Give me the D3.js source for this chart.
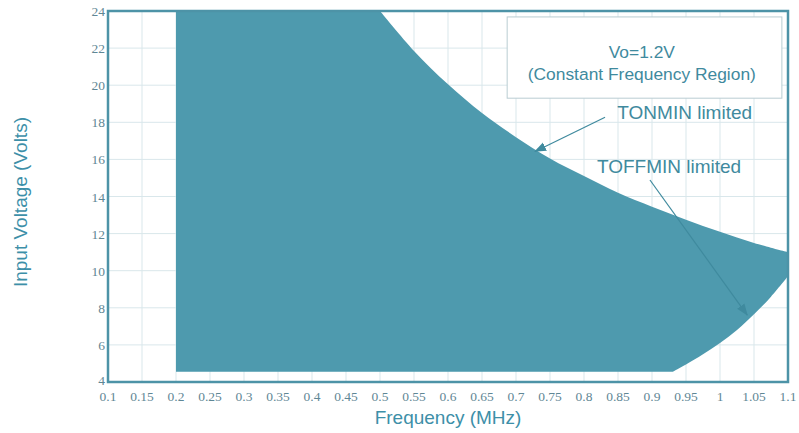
<!DOCTYPE html>
<head>
<meta charset="utf-8">
<script src="https://d3js.org/d3.v7.min.js"></script>
<style>
body { margin:0; background:#fff; }
.grid line { stroke:#d9e7eb; stroke-width:1; }
.tick-label { font-family:"Liberation Serif", "Times New Roman", serif; font-size:13.5px; fill:#5f8795; }
.title { font-family:"Liberation Sans", Arial, sans-serif; font-size:19px; fill:#3d8fa8; }
.region { fill:#4e9aae; }
.frame { fill:none; stroke:#4d93a7; stroke-width:2.5; }
.note { font-family:"Liberation Sans", Arial, sans-serif; font-size:17.4px; fill:#3f8a9e; }
.note.big { font-size:19px; }
.note-box { fill:#fff; stroke:#b9cdd2; stroke-width:1; }
.arrow { stroke:#3f8a9e; stroke-width:1.2; fill:none; }
</style>
</head>
<body>
<script>
// tick values / labels
var xTicks = [0.1, 0.15, 0.2, 0.25, 0.3, 0.35, 0.4, 0.45, 0.5, 0.55, 0.6, 0.65, 0.7, 0.75, 0.8, 0.85, 0.9, 0.95, 1, 1.05, 1.1];
var xTickLabels = ["0.1", "0.15", "0.2", "0.25", "0.3", "0.35", "0.4", "0.45", "0.5", "0.55", "0.6", "0.65", "0.7", "0.75", "0.8", "0.85", "0.9", "0.95", "1", "1.05", "1.1"];
var yTicks = [4, 6, 8, 10, 12, 14, 16, 18, 20, 22, 24];

// upper edge of the region: TONMIN limited (MHz -> Volts)
var tonFreq = [0.5, 0.55, 0.6, 0.65, 0.7, 0.75, 0.8, 0.85, 0.9, 0.95, 1.0, 1.05, 1.1];
var tonVolt = [24, 21.85, 20.05, 18.5, 17.2, 16.05, 15.1, 14.2, 13.45, 12.75, 12.1, 11.5, 11.0];

// lower right edge: TOFFMIN limited
var toffFreq = [0.93, 0.95, 0.975, 1.0, 1.025, 1.05, 1.075, 1.1];
var toffVolt = [4.55, 4.95, 5.5, 6.1, 6.8, 7.65, 8.6, 9.7];

// flat edges of the region
var fStart = 0.2, vFloor = 4.55, vCeil = 24;

var W = 799, H = 433;
var margin = {top: 11, right: 11, bottom: 51, left: 108},
    width = W - margin.left - margin.right,
    height = H - margin.top - margin.bottom;

var x = d3.scaleLinear().domain([0.1, 1.1]).range([0, width]);
var y = d3.scaleLinear().domain([4, 24]).range([height, 0]);

var svgRoot = d3.select("body").append("svg")
    .attr("width", W)
    .attr("height", H);

var defs = svgRoot.append("defs");
defs.append("marker")
    .attr("id", "head")
    .attr("viewBox", "0 -5 12 10")
    .attr("refX", 11).attr("refY", 0)
    .attr("markerWidth", 12).attr("markerHeight", 10)
    .attr("markerUnits", "userSpaceOnUse")
    .attr("orient", "auto")
  .append("path")
    .attr("d", "M0,-4.5L12,0L0,4.5Z")
    .attr("fill", "#3f8a9e");

var svg = svgRoot.append("g")
    .attr("transform", "translate(" + margin.left + "," + margin.top + ")");

// grid
var grid = svg.append("g").attr("class", "grid");
grid.selectAll(".gx").data(xTicks).enter().append("line")
    .attr("x1", d => x(d)).attr("x2", d => x(d))
    .attr("y1", 0).attr("y2", height);
grid.selectAll(".gy").data(yTicks).enter().append("line")
    .attr("x1", 0).attr("x2", width)
    .attr("y1", d => y(d)).attr("y2", d => y(d));

// operating region
var upperLine = d3.line()
    .x(d => x(d[0])).y(d => y(d[1]))
    .curve(d3.curveCatmullRom.alpha(0.5));
var lowerLine = d3.line()
    .x(d => x(d[0])).y(d => y(d[1]))
    .curve(d3.curveCatmullRom.alpha(0.5));

var upperPts = d3.zip(tonFreq, tonVolt);
var lowerPts = d3.zip(toffFreq, toffVolt).reverse();

var regionPath = "M" + x(fStart) + "," + y(vFloor)
    + "L" + x(fStart) + "," + y(vCeil)
    + upperLine(upperPts).replace(/^M/, "L")
    + lowerLine(lowerPts).replace(/^M/, "L")
    + "Z";

svg.append("path")
    .attr("class", "region")
    .attr("d", regionPath);

// frame
svg.append("rect")
    .attr("class", "frame")
    .attr("x", 0).attr("y", 0)
    .attr("width", width).attr("height", height);

// tick labels
svg.selectAll(".xl").data(xTicks).enter().append("text")
    .attr("class", "tick-label")
    .attr("x", d => x(d))
    .attr("y", height + 19)
    .attr("text-anchor", "middle")
    .text((d, i) => xTickLabels[i]);

svg.selectAll(".yl").data(yTicks).enter().append("text")
    .attr("class", "tick-label")
    .attr("x", -3)
    .attr("y", d => y(d) + (d === 4 ? 3 : 5))
    .attr("text-anchor", "end")
    .text(d => d);

// axis titles
svg.append("text")
    .attr("class", "title")
    .attr("x", x(0.6))
    .attr("y", height + 42)
    .attr("text-anchor", "middle")
    .text("Frequency (MHz)");

svg.append("text")
    .attr("class", "title")
    .attr("transform", "rotate(-90)")
    .attr("x", -(y(13.7)))
    .attr("y", -81)
    .attr("text-anchor", "middle")
    .text("Input Voltage (Volts)");

// annotation box
svg.append("rect")
    .attr("class", "note-box")
    .attr("x", x(0.687)).attr("y", y(23.68))
    .attr("width", x(1.091) - x(0.687))
    .attr("height", y(19.3) - y(23.68));

svg.append("text")
    .attr("class", "note")
    .attr("x", x(0.885)).attr("y", y(21.47))
    .attr("text-anchor", "middle")
    .text("Vo=1.2V");
svg.append("text")
    .attr("class", "note")
    .attr("x", x(0.885)).attr("y", y(20.28))
    .attr("text-anchor", "middle")
    .text("(Constant Frequency Region)");

// arrow labels
svg.append("text")
    .attr("class", "note big")
    .attr("x", x(0.849)).attr("y", y(18.18))
    .text("TONMIN limited");
svg.append("text")
    .attr("class", "note big")
    .attr("x", x(0.819)).attr("y", y(15.27))
    .text("TOFFMIN limited");

svg.append("line")
    .attr("class", "arrow")
    .attr("x1", x(0.831)).attr("y1", y(18.27))
    .attr("x2", x(0.728)).attr("y2", y(16.43))
    .attr("marker-end", "url(#head)");
svg.append("line")
    .attr("class", "arrow")
    .attr("x1", x(0.897)).attr("y1", y(14.89))
    .attr("x2", x(1.04)).attr("y2", y(7.61))
    .attr("marker-end", "url(#head)");
</script>
</body>
